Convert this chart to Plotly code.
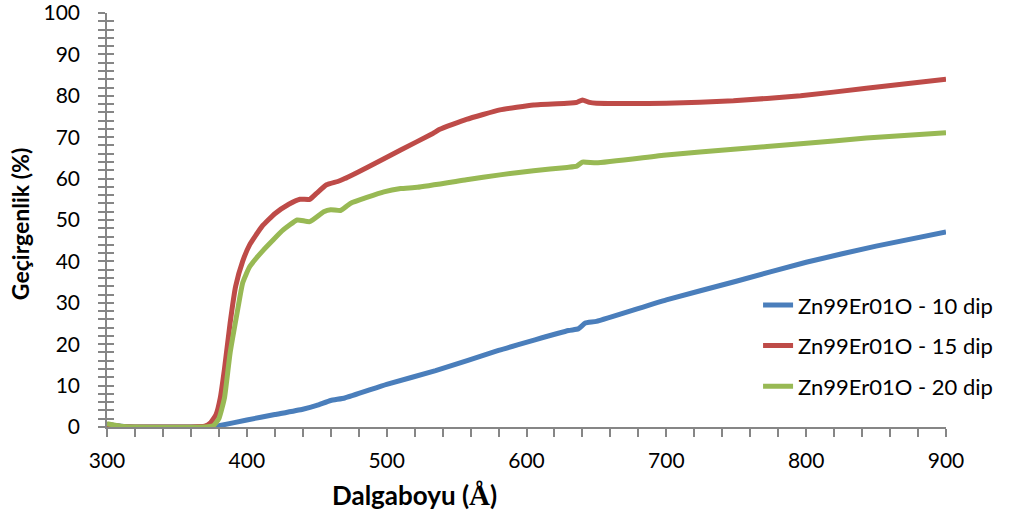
import plotly.graph_objects as go

# Zn99Er01O - 10 dip
x_10 = [300, 310, 320, 340, 360, 375, 380, 400, 420, 440, 450, 460, 470, 500, 535, 580, 630, 637, 642, 650, 700, 750, 800, 850, 900]
y_10 = [0.6, 0.2, 0, 0, 0, 0, 0.3, 1.7, 3.0, 4.3, 5.2, 6.4, 7.0, 10.3, 13.6, 18.5, 23.3, 23.7, 25.1, 25.5, 30.7, 35.2, 39.8, 43.7, 47.1]

# Zn99Er01O - 15 dip
x_15 = [300, 310, 320, 360, 370, 374, 378, 381, 384, 388, 392, 397, 402, 411, 420, 430, 438, 445, 450, 457, 465, 470, 486, 510, 533, 538, 557, 581, 605, 629, 636, 640, 645, 650, 700, 748, 796, 843, 900]
y_15 = [0.6, 0.1, 0, 0, 0.2, 1, 3, 7, 14, 25, 34, 40, 44, 48.5, 51.5, 53.8, 55, 55, 56.5, 58.5, 59.3, 60, 62.7, 66.9, 70.9, 71.9, 74.3, 76.6, 77.8, 78.2, 78.4, 79, 78.4, 78.2, 78.2, 78.8, 80, 81.8, 84]

# Zn99Er01O - 20 dip
x_20 = [300, 310, 320, 370, 376, 380, 384, 388, 393, 397, 402, 412, 426, 436, 445, 455, 460, 467, 474, 498, 510, 522, 557, 581, 605, 629, 636, 640, 650, 700, 748, 796, 843, 900]
y_20 = [0.8, 0.2, 0, 0, 0.3, 2, 7, 17.8, 27.5, 34.8, 38.7, 42.8, 47.6, 50, 49.6, 52, 52.5, 52.3, 54, 56.8, 57.6, 57.9, 59.7, 60.9, 61.9, 62.7, 63, 64, 63.8, 65.7, 67.1, 68.4, 69.8, 71.1]

names = ["Zn99Er01O - 10 dip", "Zn99Er01O - 15 dip", "Zn99Er01O - 20 dip"]
colors = ["#4A7EBB", "#BE4B48", "#98B954"]

FONT = "Lato"
AXIS_COL = "#868686"

fig = go.Figure()
for i, (xs, ys, nm, c) in enumerate(zip([x_10, x_15, x_20], [y_10, y_15, y_20], names, colors)):
    fig.add_trace(go.Scatter(x=xs, y=ys, mode="lines", name=nm, legendgroup=f"g{i}",
                             line=dict(color=c, width=5, shape="spline", smoothing=0.4)))

# invisible trace on secondary y axis to get crossing ticks
fig.add_trace(go.Scatter(x=[300], y=[0], yaxis="y2", mode="markers",
                         marker=dict(opacity=0), showlegend=False, hoverinfo="skip"))

fig.update_layout(
    width=1011, height=520,
    margin=dict(l=107, r=65, t=13, b=93),
    paper_bgcolor="white", plot_bgcolor="white",
    font=dict(family=FONT, color="black", size=20),
    xaxis=dict(
        range=[300, 900], dtick=100, tick0=300, automargin=False,
        showgrid=False, zeroline=False,
        showline=True, linecolor=AXIS_COL, linewidth=1.5,
        ticks="outside", ticklen=8, tickcolor=AXIS_COL, tickwidth=1.5,
        minor=dict(dtick=20, ticks="outside", ticklen=8, tickcolor=AXIS_COL, tickwidth=1.5),
        tickfont=dict(family=FONT, size=21),
        ticklabelstandoff=6, ticklabeloverflow="allow",
    ),
    yaxis=dict(
        range=[0, 100], dtick=10, automargin=False,
        showgrid=False, zeroline=False,
        showline=True, linecolor=AXIS_COL, linewidth=1.5,
        ticks="outside", ticklen=7, tickcolor=AXIS_COL, tickwidth=1.5,
        minor=dict(dtick=2, ticks="outside", ticklen=7, tickcolor=AXIS_COL, tickwidth=1.5),
        tickfont=dict(family=FONT, size=21),
        ticklabelstandoff=14, ticklabeloverflow="allow",
    ),
    yaxis2=dict(
        range=[0, 100], dtick=10, overlaying="y", side="left", automargin=False,
        showgrid=False, zeroline=False, showline=False, showticklabels=False,
        ticks="inside", ticklen=7, tickcolor=AXIS_COL, tickwidth=1.5,
        minor=dict(dtick=2, ticks="inside", ticklen=7, tickcolor=AXIS_COL, tickwidth=1.5),
    ),
    legend=dict(
        x=0.776, y=0.345, xanchor="left", yanchor="top",
        bgcolor="rgba(0,0,0,0)", font=dict(family=FONT, size=22),
        tracegroupgap=9,
    ),
    annotations=[
        dict(text="<b>Dalgaboyu (<span style='font-family:Liberation Serif;font-size:29px'>Å</span>)</b>",
             xref="paper", yref="paper", x=0.367, y=-0.164, xanchor="center", yanchor="middle",
             showarrow=False, font=dict(family=FONT, size=26)),
        dict(text="<b>Geçirgenlik (%)</b>", textangle=-90,
             xref="paper", yref="paper", x=-0.1037, y=0.49, xanchor="center", yanchor="middle",
             showarrow=False, font=dict(family=FONT, size=23)),
    ],
    showlegend=True,
)

fig.write_html("out.html", post_script="document.body.style.margin='0';",
               config={"displayModeBar": False})
